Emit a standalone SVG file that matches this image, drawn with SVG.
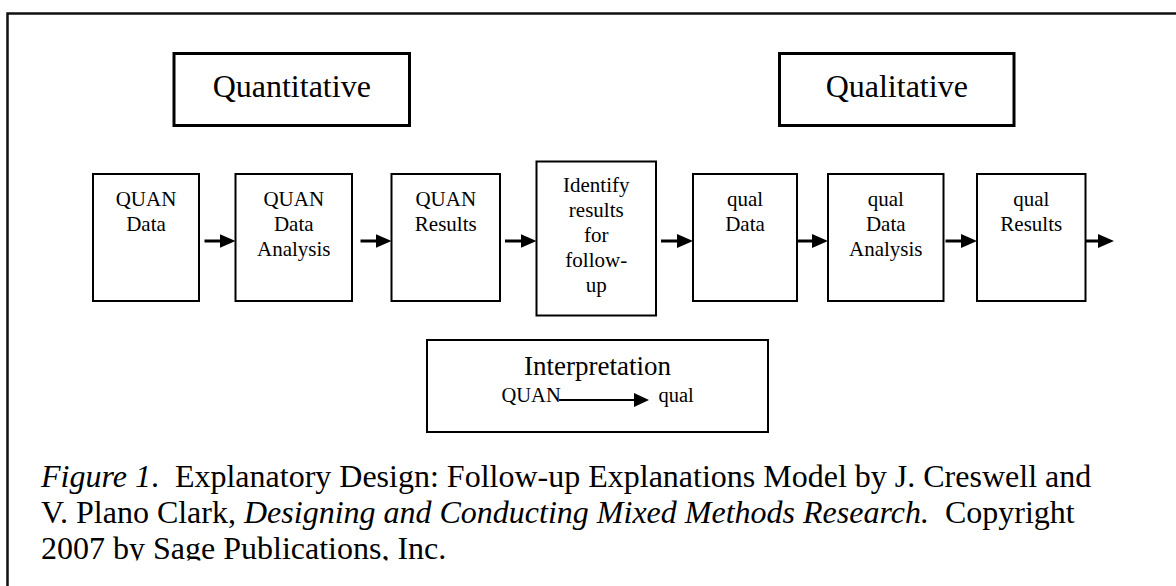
<svg xmlns="http://www.w3.org/2000/svg" width="1176" height="586" viewBox="0 0 1176 586">
<style>
  .box { fill: #fff; stroke: #000; stroke-width: 2; }
  .hdr { fill: #fff; stroke: #000; stroke-width: 3; }
  text { font-family: "Liberation Serif", "Times New Roman", serif; fill: #000; }
  .t { font-size: 21px; text-anchor: middle; }
  .h { font-size: 32px; text-anchor: middle; }
  .cap { font-size: 32px; white-space: pre; }
  .arr { stroke: #000; stroke-width: 3; fill: none; marker-end: url(#ah); }
  .arr2 { stroke: #000; stroke-width: 2; fill: none; marker-end: url(#ah2); }
</style>
<defs>
  <marker id="ah" markerUnits="userSpaceOnUse" markerWidth="16" markerHeight="14" refX="1" refY="7" orient="auto">
    <path d="M0,0 L16,7 L0,14 z" fill="#000"/>
  </marker>
  <marker id="ah2" markerUnits="userSpaceOnUse" markerWidth="15" markerHeight="14" refX="1" refY="7" orient="auto">
    <path d="M0,0 L15,7 L0,14 z" fill="#000"/>
  </marker>
  <clipPath id="clip3"><rect x="0" y="525" width="1176" height="35.5"/></clipPath>
</defs>
<rect x="0" y="0" width="1176" height="586" fill="#fff"/>
<path d="M7.5,586 V13.5 H1176" fill="none" stroke="#111" stroke-width="2.5"/>

<g id="quantitative">
  <rect class="hdr" x="174" y="53.5" width="235.5" height="72"/>
  <text class="h" x="291.75" y="97">Quantitative</text>
</g>
<g id="qualitative">
  <rect class="hdr" x="779.5" y="53.5" width="234.5" height="72"/>
  <text class="h" x="896.75" y="97">Qualitative</text>
</g>

<g id="quan-data">
  <rect class="box" x="93" y="174" width="106" height="127"/>
  <text class="t" x="146" y="205.5">QUAN</text>
  <text class="t" x="146" y="230.5">Data</text>
</g>
<g id="quan-analysis">
  <rect class="box" x="235.5" y="174" width="116.5" height="127"/>
  <text class="t" x="293.75" y="205.5">QUAN</text>
  <text class="t" x="293.75" y="230.5">Data</text>
  <text class="t" x="293.75" y="255.5">Analysis</text>
</g>
<g id="quan-results">
  <rect class="box" x="391.5" y="174" width="108.5" height="127"/>
  <text class="t" x="445.75" y="205.5">QUAN</text>
  <text class="t" x="445.75" y="230.5">Results</text>
</g>
<g id="identify">
  <rect class="box" x="536.5" y="161.5" width="119.5" height="154"/>
  <text class="t" x="596.25" y="191.5">Identify</text>
  <text class="t" x="596.25" y="216.5">results</text>
  <text class="t" x="596.25" y="241.5">for</text>
  <text class="t" x="596.25" y="266.5">follow-</text>
  <text class="t" x="596.25" y="291.5">up</text>
</g>
<g id="qual-data">
  <rect class="box" x="693" y="174" width="104" height="127"/>
  <text class="t" x="745" y="205.5">qual</text>
  <text class="t" x="745" y="230.5">Data</text>
</g>
<g id="qual-analysis">
  <rect class="box" x="828" y="174" width="115.5" height="127"/>
  <text class="t" x="885.75" y="205.5">qual</text>
  <text class="t" x="885.75" y="230.5">Data</text>
  <text class="t" x="885.75" y="255.5">Analysis</text>
</g>
<g id="qual-results">
  <rect class="box" x="977" y="174" width="108.5" height="127"/>
  <text class="t" x="1031.25" y="205.5">qual</text>
  <text class="t" x="1031.25" y="230.5">Results</text>
</g>

<g id="interpretation">
  <rect class="box" x="427" y="340" width="341" height="92"/>
  <text x="597.5" y="375" font-size="27" text-anchor="middle">Interpretation</text>
  <text x="501.5" y="402" font-size="20.5">QUAN</text>
  <text x="658.5" y="402" font-size="20.5">qual</text>
  <path class="arr2" d="M559,400 H635"/>
</g>

<g id="connectors">
  <path class="arr" d="M204.5,241 H220.5"/>
  <path class="arr" d="M360.5,241 H376.5"/>
  <path class="arr" d="M505,241 H521.5"/>
  <path class="arr" d="M661,241 H678"/>
  <path class="arr" d="M797,241 H813"/>
  <path class="arr" d="M945.5,241 H962"/>
  <path class="arr" d="M1085.5,241 H1099"/>
</g>

<g id="caption">
  <text class="cap" x="41" y="487"><tspan font-style="italic">Figure 1</tspan>.  Explanatory Design: Follow-up Explanations Model by J. Creswell and</text>
  <text class="cap" x="41" y="523">V. Plano Clark, <tspan font-style="italic">Designing and Conducting Mixed Methods Research.</tspan>  Copyright</text>
  <text class="cap" x="41" y="559" clip-path="url(#clip3)">2007 by Sage Publications, Inc.</text>
</g>
</svg>
